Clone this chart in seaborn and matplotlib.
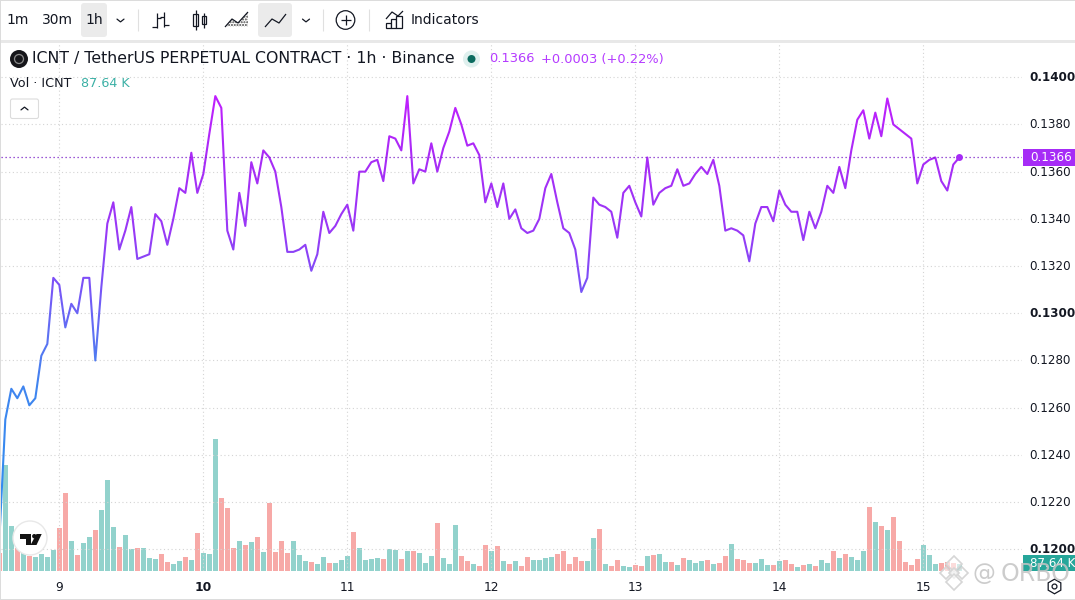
import matplotlib
matplotlib.use("Agg")
import matplotlib.pyplot as plt
from matplotlib.colors import LinearSegmentedColormap
from matplotlib.patches import Circle, FancyBboxPatch, Polygon, Rectangle
from matplotlib.transforms import ScaledTranslation
import numpy as np
import seaborn as sns

# hourly candles, 0 = start of day 9
hours = list(range(-10, 151))

price = [
    .1204, .1255, .1268, .1264, .1269, .1261, .1264, .1282, .1287, .1315,
    .1312, .1294, .1304, .1300, .1315, .1315, .1280, .1311, .1338, .1347,
    .1327, .1335, .1345, .1323, .1324, .1325, .1342, .1339, .1329, .1340,
    .1353, .1351, .1368, .1351, .1359, .1376, .1392, .1387, .1335, .1327,
    .1351, .1337, .1364, .1355, .1369, .1366, .1360, .1345, .1326, .1326,
    .1327, .1329, .1318, .1325, .1343, .1334, .1337, .1342, .1346, .1335,
    .1360, .1360, .1364, .1365, .1356, .1375, .1374, .1369, .1392, .1355,
    .1361, .1360, .1372, .1360, .1370, .1377, .1387, .1380, .1371, .1372,
    .1367, .1347, .1355, .1345, .1355, .1340, .1344, .1336, .1334, .1335,
    .1340, .1353, .1359, .1347, .1336, .1334, .1327, .1309, .1315, .1349,
    .1346, .1345, .1343, .1332, .1351, .1354, .1347, .1341, .1366, .1346,
    .1351, .1353, .1354, .1361, .1354, .1355, .1359, .1362, .1359, .1365,
    .1354, .1335, .1336, .1335, .1333, .1322, .1338, .1345, .1345, .1339,
    .1352, .1346, .1343, .1343, .1331, .1343, .1336, .1343, .1354, .1351,
    .1362, .1353, .1369, .1382, .1386, .1374, .1385, .1375, .1391, .1380,
    .1378, .1376, .1374, .1355, .1363, .1365, .1366, .1356, .1352, .1363,
    .1366,
]

# volume in thousands
volume = [
    225, 1325, 563, 288, 221, 188, 175, 213, 175, 263,
    538, 975, 375, 200, 350, 425, 513, 763, 1138, 550,
    300, 450, 275, 288, 288, 163, 150, 213, 113, 88,
    125, 175, 138, 475, 225, 213, 1650, 913, 788, 288,
    375, 325, 363, 425, 238, 850, 238, 375, 225, 375,
    200, 125, 113, 88, 175, 100, 100, 138, 188, 488,
    288, 138, 150, 163, 150, 275, 263, 150, 250, 250,
    225, 100, 188, 600, 163, 88, 575, 188, 125, 88,
    63, 325, 250, 313, 125, 88, 125, 63, 175, 138,
    138, 163, 175, 213, 250, 88, 175, 125, 125, 413,
    525, 88, 63, 138, 63, 50, 75, 63, 188, 200,
    213, 113, 113, 75, 163, 138, 100, 125, 138, 88,
    100, 188, 338, 150, 138, 100, 100, 150, 75, 75,
    125, 138, 88, 50, 75, 88, 63, 138, 100, 250,
    163, 213, 175, 138, 250, 800, 613, 563, 513, 675,
    375, 113, 75, 150, 325, 200, 88, 100, 113, 104,
    87.64,
]

# u = up candle, d = down candle, same rows as volume
direction = list(
    "duududuuuu"
    "dduduuduuu"
    "duuduuuddu"
    "ududuuuddd"
    "udududdddu"
    "uuduuduuud"
    "uuuuduudud"
    "uuuduuuddu"
    "ddudududdu"
    "uuuddddduu"
    "dudduuddud"
    "uududuuudu"
    "ddudddu" "uud"
    "uddudu" "duud"
    "uduuududud"
    "dddduuuddd"
    "u"
)

day_ticks = [0, 24, 48, 72, 96, 120, 144]
day_labels = ["9", "10", "11", "12", "13", "14", "15"]
price_ticks = [.14, .138, .136, .134, .132, .13, .128, .126, .124, .122, .12]
bold_prices = ["0.1400", "0.1300", "0.1200"]

UP = "#92d2cc"
DOWN = "#f7a9a7"
TEAL = "#26a69a"
PURPLE = "#a62cf6"
GRID = "#d4d4d4"
TEXT = "#131722"

sns.set_style("white")
plt.rcParams["font.family"] = ["DejaVu Sans"]

W, H = 1075, 600
fig = plt.figure(figsize=(W / 100, H / 100), dpi=100, facecolor="white")
rect = [1 / W, 1 - 571 / H, 1021 / W, 528 / H]
xlim = (-9.72, 160.45)
ylim = (.11908, .14145)

# volume underneath
ax_vol = fig.add_axes(rect, zorder=1)
sns.barplot(x=hours, y=volume, hue=direction, palette={"u": UP, "d": DOWN},
            native_scale=True, dodge=False, width=0.83, saturation=1,
            linewidth=0, legend=False, ax=ax_vol)
ax_vol.set_xlim(xlim)
ax_vol.set_ylim(0, 6600)
ax_vol.axis("off")

ax = fig.add_axes(rect, zorder=2)
ax.patch.set_alpha(0)
ax.set_xlim(xlim)
ax.set_ylim(ylim)

# gradient line: one clipped copy per horizontal band
low, high = .1195, .1400
stops = [(.1195, "#2b90f0"), (.1268, "#3f85ef"), (.1290, "#5c72f2"), (.1310, "#7755f7"),
         (.1335, "#9838f6"), (.1366, "#a82bf6"), (.1400, "#c41cff")]
cmap = LinearSegmentedColormap.from_list(
    "price", [((p - low) / (high - low), c) for p, c in stops])
edges = np.linspace(low, high, 71)
for i in range(len(edges) - 1):
    sns.lineplot(x=hours, y=price, color=cmap(i / 69), linewidth=1.5,
                 estimator=None, errorbar=None, solid_joinstyle="round",
                 solid_capstyle="round", ax=ax)
    band = Rectangle((xlim[0], edges[i]), xlim[1] - xlim[0], edges[i + 1] - edges[i],
                     transform=ax.transData)
    ax.lines[-1].set_clip_path(band)

ax.axhline(price[-1], color="#7d22c9", lw=0.9, ls=(0, (1, 2.2)))
ax.plot(hours[-1], price[-1], "o", color=PURPLE, ms=5, mew=0)

ax.set_xticks(day_ticks, day_labels)
ax.set_yticks(price_ticks, [f"{p:.4f}" for p in price_ticks])
ax.yaxis.tick_right()
ax.tick_params(axis="x", length=0, pad=7, labelsize=8.8, labelcolor=TEXT)
ax.tick_params(axis="y", length=0, pad=5.1, labelsize=8.6, labelcolor=TEXT)
up_1px = ScaledTranslation(0, 1 / 100, fig.dpi_scale_trans)
for lab in ax.get_xticklabels():
    if lab.get_text() == "10":
        lab.set_fontweight("bold")
for lab in ax.get_yticklabels():
    lab.set_transform(lab.get_transform() + up_1px)
    if lab.get_text() in bold_prices:
        lab.set_fontweight("bold")
ax.grid(True, color=GRID, lw=0.8, ls=(0, (1, 2.4)))
for s in ax.spines.values():
    s.set_visible(False)

# pixel-space overlay for the toolbar and legend
ui = fig.add_axes([0, 0, 1, 1], zorder=5)
ui.set_xlim(0, W)
ui.set_ylim(H, 0)
ui.axis("off")
ui.patch.set_alpha(0)


def box(x0, y0, x1, y1, fc="#ebebeb", ec="none", r=3, lw=0.8):
    ui.add_patch(FancyBboxPatch((x0 + r, y0 + r), x1 - x0 - 2 * r, y1 - y0 - 2 * r,
                                boxstyle=f"round,pad={r}", fc=fc, ec=ec, lw=lw))


def strokes(points, lw=0.9, color=TEXT):
    xs, ys = zip(*points)
    ui.plot(xs, ys, color=color, lw=lw, solid_capstyle="butt")


def chevron(x, y, s=3.5, up=False):
    d = -s * 0.8 if up else s * 0.8
    ui.plot([x - s, x, x + s], [y - d / 2, y + d / 2, y - d / 2], color=TEXT, lw=0.9,
            solid_joinstyle="miter")


# frame and the band under the toolbar
ui.add_patch(Rectangle((0, 39.5), W, 3.5, fc="#e8e8e8", ec="none"))
ui.add_patch(Rectangle((0, 0), W, 1, fc="#dcdcdc", ec="none"))
ui.add_patch(Rectangle((0, 598.5), W, 1.5, fc="#dcdcdc", ec="none"))
ui.add_patch(Rectangle((0, 0), 1, H, fc="#dcdcdc", ec="none"))

box(81, 3, 107, 37)
box(258, 3, 292, 37)
for x, label in [(18, "1m"), (57, "30m"), (94, "1h")]:
    ui.text(x, 20, label, ha="center", va="center", fontsize=10, color=TEXT)
ui.text(411, 20, "Indicators", ha="left", va="center", fontsize=10, color=TEXT)
chevron(120.5, 20.5)
chevron(306, 20.5)
for x in (137.5, 322.5, 369):
    strokes([(x, 9), (x, 31)], lw=0.8, color="#e0e0e0")

# bar icon
strokes([(157, 13), (157, 28)])
strokes([(152, 27), (157, 27)])
strokes([(157, 18), (161, 18)])
strokes([(164, 12), (164, 27)])
strokes([(160, 17), (164, 17)])
strokes([(164, 25), (169, 25)])
# candle icon
strokes([(195.5, 10), (195.5, 30)])
ui.add_patch(Rectangle((193, 14), 5, 12, fc="white", ec=TEXT, lw=0.9))
strokes([(204, 13), (204, 28)])
ui.add_patch(Rectangle((202, 16), 4, 8, fc="white", ec=TEXT, lw=0.9))
# area icon
area = [(225, 27), (232, 19), (238, 23), (248, 12)]
ui.add_patch(Polygon(area + [(248, 27)], fc="white", ec="#444444", lw=0, hatch="......"))
strokes(area)
# line icon
strokes([(265, 27), (272, 19), (279, 23), (286, 14)])
# add button
ui.add_patch(Circle((345.5, 20), 9.3, fc="white", ec=TEXT, lw=0.9))
strokes([(340.5, 20), (350.5, 20)])
strokes([(345.5, 15), (345.5, 25)])
# indicators icon
strokes([(386, 19), (392, 12), (398, 16), (403, 11)])
ui.add_patch(Rectangle((386, 23), 5, 5, fc="white", ec=TEXT, lw=0.9))
ui.add_patch(Rectangle((391, 19), 5, 9, fc="white", ec=TEXT, lw=0.9))
ui.add_patch(Rectangle((396, 16), 6, 12, fc="white", ec=TEXT, lw=0.9))

# legend lines
ui.add_patch(Circle((19, 59), 9, fc="#16161a", ec="none"))
ui.add_patch(Circle((19, 59), 4.5, fc="none", ec="#8a8a8a", lw=0.9))
ui.text(32, 59, "ICNT / TetherUS PERPETUAL CONTRACT · 1h · Binance",
        ha="left", va="center", fontsize=11.32, color=TEXT)
ui.add_patch(Circle((471.5, 59), 8.5, fc="#dff0ee", ec="none"))
ui.add_patch(Circle((471.5, 59), 4, fc="#0b6b5f", ec="none"))
ui.text(489, 59, "0.1366", ha="left", va="center", fontsize=9.4, color="#b53cff")
ui.text(541, 59, "+0.0003 (+0.22%)", ha="left", va="center", fontsize=9.4, color="#b53cff")
ui.text(10, 83.5, "Vol · ICNT", ha="left", va="center", fontsize=9.2, color=TEXT)
ui.text(81, 83.5, "87.64 K", ha="left", va="center", fontsize=9.2, color="#3bb0a5")
box(10.5, 99, 38.5, 118.5, fc="white", ec="#dcdcdc", r=2)
chevron(24.5, 108.5, up=True)

# last value labels on the price axis
y_last = H - ax.transData.transform((0, price[-1]))[1]
ui.add_patch(Rectangle((1023, y_last - 8.5), 52, 17, fc=PURPLE, ec="none"))
ui.text(1030, y_last + 0.3, f"{price[-1]:.4f}", ha="left", va="center", fontsize=8.6, color="white")
ui.add_patch(Rectangle((1023, 555), 52, 16, fc=TEAL, ec="none"))
ui.text(1030, 563.5, f"{volume[-1]:.2f} K", ha="left", va="center", fontsize=8.6,
        color="white", clip_on=True)

# TradingView badge
ui.add_patch(Circle((30, 538), 17, fc="white", ec="#e8e8e8", lw=1))
ui.add_patch(Polygon([(20, 534), (31, 534), (31, 545), (26, 545), (26, 538.5), (20, 538.5)],
                     fc="#131313", ec="none"))
ui.add_patch(Circle((34.3, 536.2), 2.2, fc="#131313", ec="none"))
ui.add_patch(Polygon([(36.5, 534), (41.7, 534), (36.5, 545), (30.5, 545)], fc="#131313", ec="none"))

# settings icon
ui.plot(1053.5, 585.5, "h", ms=10.5, mfc="white", mec=TEXT, mew=0.9)
ui.plot(1053.5, 585.5, "o", ms=3.5, mfc="white", mec=TEXT, mew=0.9)

# watermark
for x, y, s in [(954, 564, 8), (946, 573, 6), (962, 573, 6), (954, 573, 5), (954, 582, 8)]:
    ui.plot(x, y, "D", ms=s, mfc=(1, 1, 1, 0.6), mec="#d6d6d6", mew=1.2)
ui.text(973, 574, "@", ha="left", va="center", fontsize=16.5, color="#c4c4c4", alpha=0.85)
ui.text(1001, 574, "ORBO", ha="left", va="center", fontsize=17, color="#c4c4c4", alpha=0.85)

fig.savefig("out.png", dpi=100)
